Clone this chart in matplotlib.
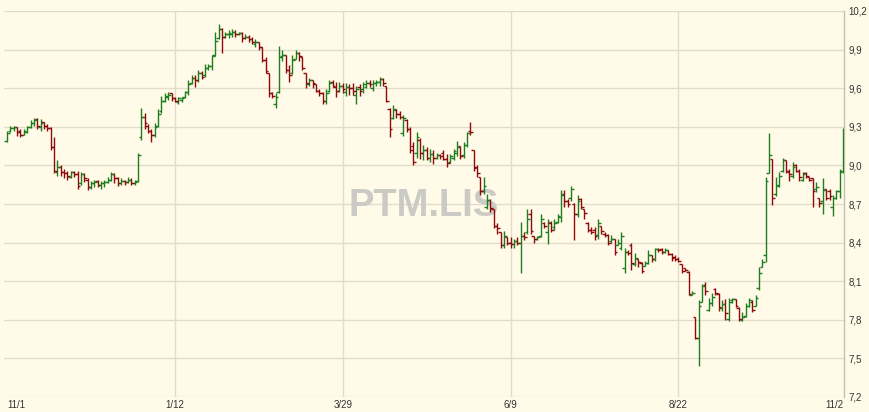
import matplotlib
matplotlib.use("Agg")
import matplotlib.pyplot as plt

# daily OHLC, PTM.LIS, 11/1 .. 11/2
opens = [9.19, 9.27, 9.29, 9.30, 9.27, 9.24, 9.26, 9.30, 9.33, 9.36,
         9.30, 9.34, 9.31, 9.29, 9.14, 8.95, 8.99, 8.95, 8.94, 8.91,
         8.95, 8.93, 8.86, 8.93, 8.89, 8.83, 8.86, 8.88, 8.85, 8.86,
         8.87, 8.89, 8.93, 8.90, 8.86, 8.88, 8.87, 8.89, 8.86, 8.88,
         9.22, 9.38, 9.31, 9.27, 9.24, 9.31, 9.42, 9.50, 9.53, 9.56,
         9.52, 9.49, 9.51, 9.53, 9.57, 9.64, 9.68, 9.66, 9.72, 9.70,
         9.76, 9.77, 9.86, 9.99, 10.06, 10.00, 10.02, 10.02, 10.04, 10.02,
         10.03, 9.99, 10.00, 9.98, 9.94, 9.96, 9.92, 9.82, 9.72, 9.56,
         9.48, 9.57, 9.85, 9.86, 9.74, 9.72, 9.83, 9.87, 9.84, 9.72,
         9.63, 9.66, 9.63, 9.58, 9.56, 9.50, 9.58, 9.65, 9.61, 9.58,
         9.62, 9.57, 9.61, 9.60, 9.55, 9.61, 9.59, 9.61, 9.64, 9.60,
         9.64, 9.65, 9.67, 9.62, 9.44, 9.37, 9.43, 9.40, 9.25, 9.35,
         9.28, 9.15, 9.10, 9.20, 9.10, 9.12, 9.06, 9.09, 9.06, 9.08,
         9.10, 9.05, 9.03, 9.06, 9.10, 9.15, 9.08, 9.16, 9.27, 9.12,
         8.99, 8.91, 8.80, 8.68, 8.73, 8.66, 8.53, 8.48, 8.38, 8.44,
         8.40, 8.39, 8.41, 8.40, 8.45, 8.48, 8.62, 8.45, 8.43, 8.45,
         8.55, 8.48, 8.55, 8.52, 8.56, 8.60, 8.78, 8.72, 8.75, 8.70,
         8.62, 8.74, 8.66, 8.55, 8.50, 8.50, 8.46, 8.53, 8.47, 8.46,
         8.41, 8.43, 8.38, 8.36, 8.20, 8.33, 8.38, 8.23, 8.27, 8.24,
         8.22, 8.24, 8.30, 8.27, 8.35, 8.35, 8.33, 8.34, 8.31, 8.29,
         8.27, 8.23, 8.20, 8.17, 7.99, 7.82, 7.66, 7.94, 8.07, 7.88,
         7.93, 8.04, 8.00, 7.89, 7.92, 7.81, 7.95, 7.96, 7.89, 7.80,
         7.83, 7.91, 7.94, 7.91, 8.05, 8.21, 8.30, 8.94, 9.05, 8.78,
         8.84, 8.96, 9.04, 8.95, 8.92, 9.00, 8.96, 8.89, 8.94, 8.91,
         8.90, 8.82, 8.75, 8.72, 8.82, 8.80, 8.68, 8.75, 8.80, 8.96]
highs = [9.27, 9.31, 9.31, 9.30, 9.28, 9.28, 9.31, 9.35, 9.37, 9.37,
         9.36, 9.34, 9.32, 9.30, 9.22, 9.04, 9.00, 8.97, 8.96, 8.96,
         8.96, 8.96, 8.95, 8.94, 8.90, 8.88, 8.89, 8.89, 8.88, 8.89,
         8.91, 8.95, 8.94, 8.91, 8.90, 8.89, 8.91, 8.90, 8.89, 9.10,
         9.45, 9.41, 9.32, 9.28, 9.33, 9.44, 9.54, 9.56, 9.57, 9.56,
         9.53, 9.53, 9.53, 9.58, 9.66, 9.70, 9.70, 9.74, 9.73, 9.79,
         9.79, 9.86, 10.04, 10.10, 10.07, 10.04, 10.05, 10.06, 10.05, 10.04,
         10.04, 10.02, 10.01, 10.00, 9.98, 9.96, 9.92, 9.84, 9.72, 9.57,
         9.56, 9.93, 9.90, 9.86, 9.78, 9.86, 9.90, 9.88, 9.84, 9.72,
         9.68, 9.66, 9.63, 9.59, 9.57, 9.59, 9.66, 9.66, 9.65, 9.65,
         9.64, 9.64, 9.63, 9.64, 9.62, 9.63, 9.65, 9.66, 9.66, 9.66,
         9.66, 9.69, 9.68, 9.62, 9.45, 9.47, 9.44, 9.42, 9.39, 9.36,
         9.30, 9.18, 9.26, 9.21, 9.16, 9.14, 9.13, 9.12, 9.10, 9.09,
         9.12, 9.09, 9.09, 9.13, 9.19, 9.15, 9.18, 9.26, 9.34, 9.12,
         9.00, 8.91, 8.91, 8.78, 8.74, 8.66, 8.55, 8.48, 8.49, 8.44,
         8.44, 8.43, 8.44, 8.56, 8.48, 8.66, 8.66, 8.45, 8.45, 8.62,
         8.56, 8.58, 8.57, 8.58, 8.62, 8.81, 8.81, 8.74, 8.84, 8.71,
         8.77, 8.75, 8.66, 8.56, 8.52, 8.52, 8.58, 8.53, 8.48, 8.47,
         8.46, 8.43, 8.43, 8.48, 8.36, 8.34, 8.40, 8.32, 8.27, 8.25,
         8.26, 8.34, 8.30, 8.36, 8.36, 8.36, 8.36, 8.34, 8.32, 8.30,
         8.29, 8.23, 8.20, 8.18, 8.02, 7.82, 7.95, 8.08, 8.09, 7.97,
         8.01, 8.05, 8.01, 7.95, 7.96, 7.97, 7.97, 7.96, 7.90, 7.86,
         7.93, 7.97, 7.95, 7.99, 8.21, 8.27, 8.91, 9.25, 9.05, 8.91,
         8.95, 9.06, 9.04, 8.97, 9.03, 9.01, 8.97, 8.95, 8.95, 8.91,
         8.90, 8.87, 8.75, 8.90, 8.82, 8.82, 8.77, 8.81, 8.97, 9.29]
lows = [9.18, 9.26, 9.27, 9.23, 9.22, 9.24, 9.25, 9.29, 9.31, 9.28,
        9.27, 9.28, 9.27, 9.12, 8.94, 8.92, 8.92, 8.90, 8.89, 8.90,
        8.91, 8.82, 8.85, 8.87, 8.81, 8.82, 8.83, 8.83, 8.82, 8.83,
        8.86, 8.88, 8.86, 8.84, 8.85, 8.85, 8.86, 8.85, 8.85, 8.87,
        9.20, 9.28, 9.25, 9.18, 9.22, 9.30, 9.41, 9.49, 9.51, 9.50,
        9.49, 9.48, 9.49, 9.52, 9.55, 9.63, 9.61, 9.65, 9.67, 9.69,
        9.74, 9.74, 9.85, 9.98, 9.87, 9.99, 9.99, 10.00, 10.00, 10.01,
        9.96, 9.98, 9.96, 9.94, 9.92, 9.90, 9.80, 9.72, 9.53, 9.52,
        9.45, 9.56, 9.81, 9.72, 9.65, 9.71, 9.83, 9.81, 9.74, 9.60,
        9.62, 9.60, 9.57, 9.54, 9.48, 9.48, 9.57, 9.61, 9.53, 9.57,
        9.56, 9.54, 9.55, 9.55, 9.48, 9.54, 9.56, 9.60, 9.61, 9.58,
        9.62, 9.62, 9.62, 9.49, 9.22, 9.36, 9.37, 9.36, 9.23, 9.26,
        9.10, 9.00, 9.06, 9.05, 9.04, 9.04, 9.03, 9.01, 9.05, 9.05,
        9.04, 8.99, 9.02, 9.04, 9.07, 9.05, 9.06, 9.14, 9.24, 8.96,
        8.91, 8.77, 8.78, 8.66, 8.64, 8.51, 8.47, 8.36, 8.36, 8.38,
        8.36, 8.36, 8.38, 8.16, 8.42, 8.47, 8.47, 8.40, 8.42, 8.44,
        8.51, 8.39, 8.48, 8.50, 8.55, 8.56, 8.68, 8.68, 8.72, 8.42,
        8.60, 8.66, 8.58, 8.48, 8.47, 8.42, 8.43, 8.47, 8.44, 8.38,
        8.40, 8.30, 8.38, 8.34, 8.16, 8.30, 8.19, 8.22, 8.21, 8.16,
        8.22, 8.23, 8.25, 8.26, 8.33, 8.31, 8.32, 8.30, 8.26, 8.26,
        8.25, 8.16, 8.18, 7.99, 7.99, 7.65, 7.44, 7.94, 7.99, 7.87,
        7.91, 7.99, 7.87, 7.87, 7.80, 7.79, 7.93, 7.90, 7.79, 7.79,
        7.82, 7.90, 7.86, 7.91, 8.03, 8.21, 8.25, 8.94, 8.69, 8.76,
        8.83, 8.95, 8.94, 8.88, 8.90, 8.95, 8.88, 8.88, 8.90, 8.88,
        8.68, 8.79, 8.68, 8.62, 8.73, 8.73, 8.61, 8.74, 8.75, 8.94]
closes = [9.25, 9.29, 9.30, 9.26, 9.24, 9.27, 9.30, 9.33, 9.35, 9.31,
          9.33, 9.31, 9.29, 9.14, 8.96, 8.99, 8.95, 8.94, 8.92, 8.95,
          8.93, 8.84, 8.93, 8.90, 8.83, 8.86, 8.87, 8.85, 8.86, 8.87,
          8.89, 8.93, 8.90, 8.86, 8.88, 8.87, 8.89, 8.86, 8.87, 9.08,
          9.38, 9.33, 9.27, 9.24, 9.30, 9.40, 9.50, 9.54, 9.55, 9.52,
          9.50, 9.52, 9.52, 9.57, 9.63, 9.68, 9.66, 9.72, 9.69, 9.76,
          9.77, 9.85, 9.97, 10.06, 10.00, 10.02, 10.03, 10.04, 10.02, 10.03,
          9.99, 10.00, 9.98, 9.96, 9.96, 9.92, 9.82, 9.73, 9.56, 9.54,
          9.53, 9.84, 9.86, 9.74, 9.70, 9.82, 9.87, 9.85, 9.76, 9.64,
          9.66, 9.64, 9.58, 9.56, 9.50, 9.56, 9.64, 9.62, 9.58, 9.62,
          9.59, 9.61, 9.60, 9.58, 9.59, 9.58, 9.63, 9.64, 9.63, 9.64,
          9.65, 9.67, 9.64, 9.50, 9.28, 9.44, 9.40, 9.38, 9.37, 9.28,
          9.12, 9.03, 9.22, 9.10, 9.12, 9.06, 9.09, 9.06, 9.08, 9.07,
          9.05, 9.02, 9.07, 9.11, 9.14, 9.07, 9.16, 9.25, 9.26, 8.98,
          8.94, 8.80, 8.84, 8.73, 8.67, 8.53, 8.51, 8.38, 8.45, 8.40,
          8.39, 8.41, 8.40, 8.45, 8.44, 8.58, 8.49, 8.43, 8.44, 8.58,
          8.53, 8.56, 8.50, 8.55, 8.61, 8.77, 8.72, 8.70, 8.82, 8.62,
          8.72, 8.68, 8.63, 8.50, 8.48, 8.45, 8.55, 8.49, 8.46, 8.40,
          8.43, 8.33, 8.40, 8.45, 8.33, 8.32, 8.24, 8.28, 8.25, 8.18,
          8.24, 8.30, 8.27, 8.35, 8.34, 8.33, 8.34, 8.31, 8.28, 8.27,
          8.26, 8.18, 8.19, 8.00, 8.01, 7.66, 7.91, 8.06, 8.02, 7.93,
          7.98, 8.01, 7.90, 7.92, 7.85, 7.94, 7.96, 7.91, 7.81, 7.82,
          7.91, 7.95, 7.88, 7.97, 8.16, 8.25, 8.88, 9.08, 8.75, 8.85,
          8.92, 9.04, 8.96, 8.93, 8.99, 8.96, 8.91, 8.93, 8.92, 8.89,
          8.80, 8.83, 8.71, 8.81, 8.75, 8.76, 8.75, 8.80, 8.95, 9.16]

date_ticks = [0, 50, 100, 150, 200, 249]
date_labels = ["11/1", "1/12", "3/29", "6/9", "8/22", "11/2"]
price_ticks = [7.2, 7.5, 7.8, 8.1, 8.4, 8.7, 9.0, 9.3, 9.6, 9.9, 10.2]

bg = "#fffbe8"
up_col = "#1e7d1e"
down_col = "#8c0a0a"
grid_col = "#e2ddca"

fig = plt.figure(figsize=(8.7, 4.12), dpi=100, facecolor=bg)
ax = fig.add_axes([4 / 870, 15 / 412, 840 / 870, 386 / 412])
ax.set_facecolor(bg)

x = list(range(len(closes)))
colors = [up_col if c >= o else down_col for o, c in zip(opens, closes)]
w = 0.8
ax.vlines(x, lows, highs, colors=colors, linewidth=1.0, zorder=3)
ax.hlines(opens, [i - w for i in x], x, colors=colors, linewidth=1.0, zorder=3)
ax.hlines(closes, x, [i + w for i in x], colors=colors, linewidth=1.0, zorder=3)

# grid
for p in price_ticks:
    ax.axhline(p, color=grid_col, linewidth=1.0, zorder=0)
for t in date_ticks[1:-1]:
    ax.axvline(t, color=grid_col, linewidth=1.0, zorder=0)

ax.text(0.5, 0.495, "PTM.LIS", transform=ax.transAxes, ha="center", va="center",
        fontsize=27.5, fontweight="bold", family="Liberation Sans", color="#cbcac4", zorder=1)

ax.set_xlim(-0.9, 249.3)
ax.set_ylim(7.2, 10.2)

ax.yaxis.tick_right()
ax.set_yticks(price_ticks)
ax.set_yticklabels([f"{p:.1f}".replace(".", ",") for p in price_ticks])
ax.set_xticks(date_ticks)
ax.set_xticklabels(date_labels)
ax.get_xticklabels()[0].set_ha("left")
ax.get_xticklabels()[-1].set_ha("right")
ax.tick_params(axis="both", length=0, labelsize=7, labelcolor="#333333")
ax.tick_params(axis="y", pad=3)
ax.tick_params(axis="x", pad=2)
for lab in ax.get_xticklabels() + ax.get_yticklabels():
    lab.set_family("Liberation Sans")

for s in ["left", "top", "bottom"]:
    ax.spines[s].set_visible(False)
ax.spines["right"].set_color("#c4c0b0")
ax.spines["right"].set_linewidth(1.0)

fig.savefig("out.png", dpi=100, facecolor=bg)
